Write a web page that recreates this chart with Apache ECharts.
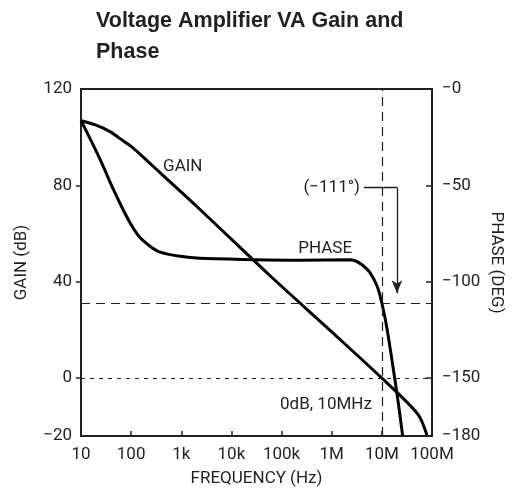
<!DOCTYPE html>
<html>
<head>
<meta charset="utf-8">
<script src="https://cdn.jsdelivr.net/npm/echarts@6/dist/echarts.min.js"></script>
<style>
html,body{margin:0;padding:0;background:#fff;}
#chart{width:517px;height:492px;}
</style>
</head>
<body>
<div id="chart"></div>
<script>
// ---- data ----
var freqTickValues = [10, 100, 1e3, 1e4, 1e5, 1e6, 1e7, 1e8];
var freqTickLabels = ['10', '100', '1k', '10k', '100k', '1M', '10M', '100M'];

var gainTickValues = [-24, 0, 40, 80, 120];
var gainTickLabels = ['\u221220', '0', '40', '80', '120'];
var phaseTickValues = [-180, -150, -100, -50, 0];
var phaseTickLabels = ['\u2212180', '\u2212150', '\u2212100', '\u221250', '\u22120'];

var gainFreq = [10, 20, 38, 60, 100, 150, 376, 2360, 59000, 1e6, 1e7, 5.2e7, 7.9e7];
var gainDb   = [106.8, 105.0, 102.3, 99.4, 96.2, 93.0, 85.3, 70.0, 42.5, 19.2, 0, -14.9, -23.6];

var phaseFreq = [10, 24, 44, 65, 95, 131, 174, 261, 378, 944, 2360, 233000, 2.3e6, 5e6, 7.9e6, 1e7, 1.26e7, 2e7, 2.6e7];
var phaseDeg  = [-16.3, -36.5, -52, -61.2, -69.4, -75.1, -78.7, -82.3, -84.6, -86.8, -87.8, -88.8, -88.6, -93.3, -101.8, -111, -124, -158, -180];

var crossFreq = 1e7;      // 0 dB crossover
var crossPhase = -111;    // phase at crossover
var arrowFreqStart = 4.4e6, arrowFreqEnd = 2e7, arrowPhaseTop = -51, arrowPhaseTip = -106;

function pairs(xs, ys) { return xs.map(function (x, i) { return [x, ys[i]]; }); }

var FONT = 'Roboto, "Liberation Sans", sans-serif';
var INK = '#231f20';

var chart = echarts.init(document.getElementById('chart'), null, {renderer: 'canvas'});
chart.setOption({
  animation: false,
  backgroundColor: '#fff',
  title: {
    text: 'Voltage Amplifier VA Gain and\nPhase',
    left: 91, top: 1,
    textStyle: {fontFamily: '"Liberation Sans", Arial, sans-serif', fontWeight: 'bold', fontSize: 21.5, lineHeight: 31, color: INK}
  },
  grid: {left: 81, right: 85, top: 89, bottom: 53, show: true, borderColor: INK, borderWidth: 2, backgroundColor: 'transparent'},
  xAxis: {
    type: 'log', logBase: 10, min: 10, max: 1e8,
    name: 'FREQUENCY (Hz)', nameLocation: 'middle', nameGap: 34, nameMoveOverlap: false,
    nameTextStyle: {fontFamily: FONT, fontSize: 17, color: INK},
    axisLine: {onZero: false, lineStyle: {color: INK, width: 2}},
    axisTick: {inside: true, length: 5, lineStyle: {color: INK, width: 1.5}},
    axisLabel: {
      fontFamily: FONT, fontSize: 17, color: INK, margin: 10,
      formatter: function (v) { var i = freqTickValues.indexOf(v); return i >= 0 ? freqTickLabels[i] : ''; }
    },
    splitLine: {show: false}, minorTick: {show: false}
  },
  yAxis: [{
    type: 'value', min: -24, max: 120, position: 'left',
    name: 'GAIN (dB)', nameLocation: 'middle', nameGap: 51, nameRotate: 90, nameMoveOverlap: false,
    nameTextStyle: {fontFamily: FONT, fontSize: 17, color: INK},
    axisLine: {show: true, onZero: false, lineStyle: {color: INK, width: 2}},
    axisTick: {show: true, length: 5, customValues: [0, 40, 80], lineStyle: {color: INK, width: 1.5}},
    axisLabel: {
      fontFamily: FONT, fontSize: 17, color: INK, margin: 9,
      customValues: gainTickValues,
      formatter: function (v) { var i = gainTickValues.indexOf(v); return i >= 0 ? gainTickLabels[i] : ''; }
    },
    splitLine: {show: false}
  }, {
    type: 'value', min: -180, max: 0, position: 'right',
    name: 'PHASE (DEG)', nameLocation: 'middle', nameGap: 56, nameRotate: -90, nameMoveOverlap: false,
    nameTextStyle: {fontFamily: FONT, fontSize: 17, color: INK},
    axisLine: {show: true, onZero: false, lineStyle: {color: INK, width: 2}},
    axisTick: {show: true, inside: true, length: 6, customValues: [-150, -100, -50], lineStyle: {color: INK, width: 1.5}},
    axisLabel: {
      fontFamily: FONT, fontSize: 17, color: INK, margin: 10,
      customValues: phaseTickValues,
      formatter: function (v) { var i = phaseTickValues.indexOf(v); return i >= 0 ? phaseTickLabels[i] : ''; }
    },
    splitLine: {show: false}
  }],
  series: [{
    name: 'GAIN', type: 'line', yAxisIndex: 0, data: pairs(gainFreq, gainDb),
    showSymbol: false, symbol: 'none', smooth: 0.3,
    lineStyle: {color: '#000', width: 3}, silent: true,
    markLine: {
      silent: true, symbol: 'none',
      lineStyle: {color: INK, width: 1.2, type: [4, 5]},
      label: {show: false},
      data: [{yAxis: 0}]
    },
    markPoint: {
      silent: true, symbol: 'circle', symbolSize: 0,
      data: [
        {coord: [1070, 87.9], label: {show: true, position: 'inside', formatter: 'GAIN', fontFamily: FONT, fontSize: 17, color: INK}},
        {coord: [crossFreq, -11], label: {show: true, position: 'left', distance: 10, formatter: '0dB, 10MHz', fontFamily: FONT, fontSize: 17, color: INK}}
      ]
    }
  }, {
    name: 'PHASE', type: 'line', yAxisIndex: 1, data: pairs(phaseFreq, phaseDeg),
    showSymbol: false, symbol: 'none', smooth: 0.3,
    lineStyle: {color: '#000', width: 3}, silent: true,
    markLine: {
      silent: true, symbol: 'none',
      lineStyle: {color: INK, width: 1.2, type: [9, 6]},
      label: {show: false},
      data: [
        {yAxis: crossPhase},
        {xAxis: crossFreq},
        [{coord: [arrowFreqStart, arrowPhaseTop], symbol: 'none',
          lineStyle: {type: 'solid', width: 1.3, color: INK},
          label: {show: true, position: 'start', distance: 4, formatter: '(\u2212111\u00b0)', fontFamily: FONT, fontSize: 17, color: INK}},
         {coord: [arrowFreqEnd, arrowPhaseTop], symbol: 'none'}],
        [{coord: [arrowFreqEnd, arrowPhaseTop], symbol: 'none', lineStyle: {type: 'solid', width: 1.3, color: INK}},
         {coord: [arrowFreqEnd, arrowPhaseTip], symbol: 'arrow', symbolSize: [8, 13]}]
      ]
    },
    markPoint: {
      silent: true, symbol: 'circle', symbolSize: 0,
      data: [
        {coord: [740000, -82.8], label: {show: true, position: 'inside', formatter: 'PHASE', fontFamily: FONT, fontSize: 17, color: INK}}
      ]
    }
  }]
});
</script>
</body>
</html>
